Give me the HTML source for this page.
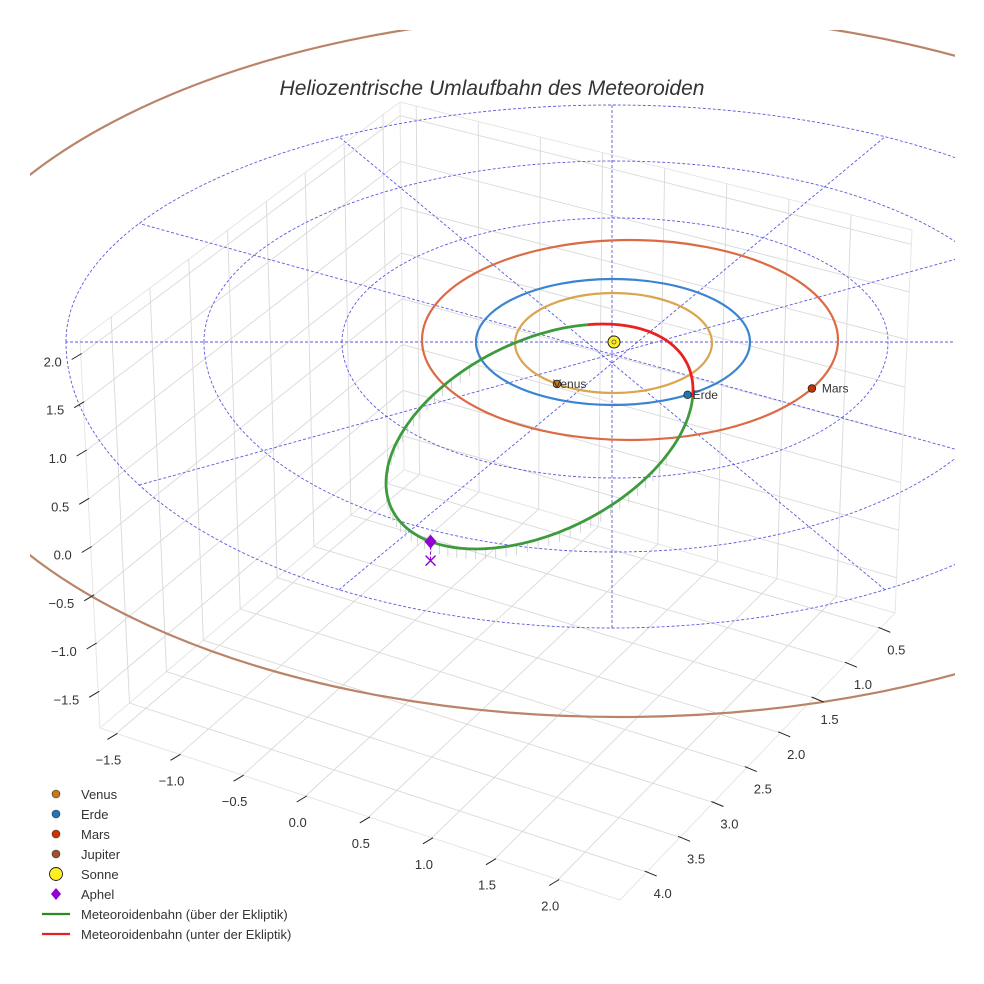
<!DOCTYPE html>
<html><head><meta charset="utf-8"><style>
html,body{margin:0;padding:0;background:#fff}
svg{display:block}
text{font-family:"Liberation Sans",sans-serif;fill:#333}
</style></head><body>
<svg id="chart" width="984" height="984" viewBox="0 0 984 984" xmlns="http://www.w3.org/2000/svg">
<defs><clipPath id="axclip"><rect x="30" y="30" width="925" height="930"/></clipPath></defs>
<text x="492" y="95" text-anchor="middle" font-size="21" font-style="italic" fill="#222">Heliozentrische Umlaufbahn des Meteoroiden</text>
<g id="grid"></g>
<g id="plot" clip-path="url(#axclip)"></g>
<g id="ticks"></g>
<g id="legend"></g>
</svg>
<script>
// ---- data ----
const xTicks = [0.5,1.0,1.5,2.0,2.5,3.0,3.5,4.0];
const yTicks = [-1.5,-1.0,-0.5,0.0,0.5,1.0,1.5,2.0];
const zTicks = [-1.5,-1.0,-0.5,0.0,0.5,1.0,1.5,2.0];
const planetNames = ["Venus","Erde","Mars","Jupiter"];
const planetRadiiAU = [0.723,1.0,1.524,5.2];
const planetAnglesDeg = [125,57,29,null];
const planetColors = ["#c87814","#1f77b4","#cc3300","#a0522d"];
const orbitColors = ["#d9a54e","#3b84d2","#dc6a45","#b98469"];
const meteorRedRange = [-1.25,0.07];
const aphelAngle = 2.36;

// ---- axis/box geometry ----
const xLim=[0.28,4.4], yLim=[-1.63,2.49], zLim=[-1.87,2.15];
const C0={B:[404,470],R:[895,613],L:[100,728],F:[620,900]};
const C1={B:[400,102],R:[912,230],L:[80,340],F:[625,488]};
function lerp(a,b,t){return [a[0]+(b[0]-a[0])*t,a[1]+(b[1]-a[1])*t];}
function proj(x,y,z){
  const xf=(x-xLim[0])/(xLim[1]-xLim[0]), yf=(y-yLim[0])/(yLim[1]-yLim[0]), zf=(z-zLim[0])/(zLim[1]-zLim[0]);
  const f0=lerp(lerp(C0.B,C0.R,yf),lerp(C0.L,C0.F,yf),xf);
  const f1=lerp(lerp(C1.B,C1.R,yf),lerp(C1.L,C1.F,yf),xf);
  return lerp(f0,f1,zf);
}
const NS="http://www.w3.org/2000/svg";
function mk(tag,attrs,parent){const e=document.createElementNS(NS,tag);for(const k in attrs)e.setAttribute(k,attrs[k]);parent.appendChild(e);return e;}
const grid=document.getElementById('grid'), plot=document.getElementById('plot'), ticks=document.getElementById('ticks'), legend=document.getElementById('legend');
function line(p,q,attrs,parent){return mk('line',Object.assign({x1:p[0].toFixed(1),y1:p[1].toFixed(1),x2:q[0].toFixed(1),y2:q[1].toFixed(1)},attrs),parent);}
const gs={stroke:"#d9d9d9","stroke-width":"0.9"};
[[proj(xLim[0],yLim[0],zLim[0]),proj(xLim[0],yLim[0],zLim[1])],
 [proj(xLim[0],yLim[1],zLim[0]),proj(xLim[0],yLim[1],zLim[1])],
 [proj(xLim[1],yLim[0],zLim[0]),proj(xLim[1],yLim[0],zLim[1])],
 [proj(xLim[0],yLim[0],zLim[1]),proj(xLim[0],yLim[1],zLim[1])],
 [proj(xLim[0],yLim[0],zLim[1]),proj(xLim[1],yLim[0],zLim[1])],
 [proj(xLim[0],yLim[0],zLim[0]),proj(xLim[0],yLim[1],zLim[0])],
 [proj(xLim[0],yLim[0],zLim[0]),proj(xLim[1],yLim[0],zLim[0])],
 [proj(xLim[1],yLim[0],zLim[0]),proj(xLim[1],yLim[1],zLim[0])],
 [proj(xLim[0],yLim[1],zLim[0]),proj(xLim[1],yLim[1],zLim[0])]].forEach(s=>{
  const e=line(s[0],s[1],{stroke:"#e6e6e6","stroke-width":"1"},grid);
  
  
});
xTicks.forEach(x=>{
  let e=line(proj(x,yLim[0],zLim[0]),proj(x,yLim[1],zLim[0]),gs,grid);
  
  
  e=line(proj(x,yLim[0],zLim[0]),proj(x,yLim[0],zLim[1]),gs,grid);
  
  
});
yTicks.forEach(y=>{
  let e=line(proj(xLim[0],y,zLim[0]),proj(xLim[1],y,zLim[0]),gs,grid);
  
  
  e=line(proj(xLim[0],y,zLim[0]),proj(xLim[0],y,zLim[1]),gs,grid);
  
  
});
zTicks.forEach(z=>{
  let e=line(proj(xLim[1],yLim[0],z),proj(xLim[0],yLim[0],z),gs,grid);
  
  
  e=line(proj(xLim[0],yLim[0],z),proj(xLim[0],yLim[1],z),gs,grid);
  
  
});
function fmt(v){return (v<0?"\u2212":"")+Math.abs(v).toFixed(1);}
function txt(s,x,y,anchor,parent,size){const t=mk('text',{x:x.toFixed(1),y:y.toFixed(1),'text-anchor':anchor,'font-size':size||13},parent);t.textContent=s;return t;}
zTicks.forEach(z=>{
  const p=proj(xLim[1],yLim[0],z);
  let e=line([p[0]-9,p[1]+5],[p[0]+1,p[1]-1],{stroke:"#222","stroke-width":"1"},ticks);
  
  
  e=txt(fmt(z),p[0]-19,p[1]+12,'end',ticks);
  
  
});
yTicks.forEach(y=>{
  const p=proj(xLim[1],y,zLim[0]);
  let e=line([p[0]-9,p[1]+6],[p[0]+1,p[1]],{stroke:"#222","stroke-width":"1"},ticks);
  
  
  e=txt(fmt(y),p[0]-8,p[1]+31,'middle',ticks);
  
  
});
xTicks.forEach(x=>{
  const p=proj(x,yLim[1],zLim[0]);
  let e=line([p[0]-2,p[1]-1],[p[0]+10,p[1]+4],{stroke:"#222","stroke-width":"1"},ticks);
  
  
  e=txt(fmt(x),p[0]+16,p[1]+26,'middle',ticks);
  
  
});

// ---- ecliptic reference rings (dashed) ----
const SUN=[614,342];
const rings=[{cx:615,rx:273,rt:124,rb:136},{cx:614,rx:410,rt:181,rb:210},{cx:612,rx:546,rt:237,rb:286}];
const ds={fill:"none",stroke:"#5a5ae0","stroke-width":"0.9","stroke-dasharray":"3,2"};
rings.forEach(r=>{
  const d=`M${r.cx-r.rx},${SUN[1]} A${r.rx},${r.rt} 0 0 1 ${r.cx+r.rx},${SUN[1]} A${r.rx},${r.rb} 0 0 1 ${r.cx-r.rx},${SUN[1]}`;
  const e=mk('path',Object.assign({d:d},ds),plot);
  
  
});
const outer=rings[2];
for(let a=0;a<180;a+=30){
  const f=a*Math.PI/180;
  const p=[outer.cx+outer.rx*Math.cos(f),SUN[1]+(Math.sin(f)<0?outer.rt:outer.rb)*Math.sin(f)];
  const g=f+Math.PI;
  const q=[outer.cx+outer.rx*Math.cos(g),SUN[1]+(Math.sin(g)<0?outer.rt:outer.rb)*Math.sin(g)];
  const e=line(p,q,ds,plot);
  
  
}

// ---- planetary orbits ----
const calR=[0.723,1.0,1.524,5.2], calRx=[98.5,137,208,701], calRy=[50,63,100,352], calCx=[613.5,613,630,620], calCy=[343,342,340,365];
function interp(r,arr){
  if(r<=calR[0])return arr[0]*r/calR[0];
  for(let i=0;i<calR.length-1;i++){if(r<=calR[i+1]){const t=(r-calR[i])/(calR[i+1]-calR[i]);return arr[i]+(arr[i+1]-arr[i])*t;}}
  return arr[arr.length-1];
}
function orbitGeom(r){return {cx:interp(r,calCx),cy:interp(r,calCy),rx:interp(r,calRx),ry:interp(r,calRy)};}
function orbitPoint(r,deg){const g=orbitGeom(r),f=deg*Math.PI/180;return [g.cx+g.rx*Math.cos(f),g.cy+g.ry*Math.sin(f)];}
planetNames.forEach((n,i)=>{
  const g=orbitGeom(planetRadiiAU[i]);
  const e=mk('ellipse',{cx:g.cx,cy:g.cy,rx:g.rx,ry:g.ry,fill:"none",stroke:orbitColors[i],"stroke-width":"2.2"},plot);
  
  
});

// ---- meteoroid orbit ----
const MC=[539.5,436.5], MA=[153.5,-46.5], MB=[0,102.4];
function mPt(t){return [MC[0]+MA[0]*Math.cos(t)+MB[0]*Math.sin(t),MC[1]+MA[1]*Math.cos(t)+MB[1]*Math.sin(t)];}
for(let t=0.6;t<4.3;t+=0.07){
  const p=mPt(t);
  const e=line([p[0],p[1]],[p[0],p[1]+10],{stroke:"#c4c4c4","stroke-width":"0.7"},plot);
  
  
}
function pathRange(a,b){let d="";const n=160;for(let i=0;i<=n;i++){const p=mPt(a+(b-a)*i/n);d+=(i?"L":"M")+p[0].toFixed(1)+","+p[1].toFixed(1);}return d;}
let e=mk('path',{d:pathRange(meteorRedRange[1],2*Math.PI+meteorRedRange[0]),fill:"none",stroke:"#3d9b3d","stroke-width":"2.8"},plot);


e=mk('path',{d:pathRange(meteorRedRange[0],meteorRedRange[1]),fill:"none",stroke:"#ec2020","stroke-width":"2.8"},plot);



e=mk('circle',{cx:SUN[0],cy:SUN[1],r:6,fill:"#ffee22",stroke:"#222","stroke-width":"1"},plot);


e=mk('circle',{cx:SUN[0],cy:SUN[1],r:2,fill:"none",stroke:"#555","stroke-width":"0.8"},plot);



planetNames.forEach((n,i)=>{
  if(planetAnglesDeg[i]===null)return;
  const p=orbitPoint(planetRadiiAU[i],planetAnglesDeg[i]);
  let c=mk('circle',{cx:p[0].toFixed(1),cy:p[1].toFixed(1),r:3.8,fill:planetColors[i],stroke:"#222","stroke-width":"0.8"},plot);
  
  
  const t=mk('text',{x:(p[0]+(i===2?10:-4+(i===1?9:0))).toFixed(1),y:(p[1]+4).toFixed(1),'font-size':12,fill:"#111"},plot);
  t.textContent=n;
  
  
});

const ap=mPt(aphelAngle);
e=line([ap[0],ap[1]],[ap[0],ap[1]+19],{stroke:"#9400d3","stroke-width":"1","stroke-dasharray":"3,2"},plot);


e=mk('path',{d:`M${ap[0]},${ap[1]-7}L${ap[0]+6},${ap[1]}L${ap[0]},${ap[1]+7}L${ap[0]-6},${ap[1]}Z`,fill:"#9400d3"},plot);


e=mk('path',{d:`M${ap[0]-5},${ap[1]+14}L${ap[0]+5},${ap[1]+24}M${ap[0]+5},${ap[1]+14}L${ap[0]-5},${ap[1]+24}`,stroke:"#9400d3","stroke-width":"1.4",fill:"none"},plot);



const legendLabels=["Venus","Erde","Mars","Jupiter","Sonne","Aphel","Meteoroidenbahn (über der Ekliptik)","Meteoroidenbahn (unter der Ekliptik)"];
const legendKinds=["dot","dot","dot","dot","sun","diamond","line","line"];
const legendColors=["#c87814","#1f77b4","#cc3300","#a0522d","#ffee22","#9400d3","#2a8a2a","#e22222"];
legendLabels.forEach((l,i)=>{
  const y=794+i*20, x=56;
  let m;
  if(legendKinds[i]==="dot") m=mk('circle',{cx:x,cy:y,r:4,fill:legendColors[i],stroke:"#333","stroke-width":"0.6"},legend);
  else if(legendKinds[i]==="sun") m=mk('circle',{cx:x,cy:y,r:6.5,fill:legendColors[i],stroke:"#222","stroke-width":"0.9"},legend);
  else if(legendKinds[i]==="diamond") m=mk('path',{d:`M${x},${y-6}L${x+5},${y}L${x},${y+6}L${x-5},${y}Z`,fill:legendColors[i]},legend);
  else m=mk('line',{x1:42,y1:y,x2:70,y2:y,stroke:legendColors[i],"stroke-width":"2.2"},legend);
  
  
  const t=txt(l,81,y+5,'start',legend,13);
  
  
});
</script>
</body></html>
